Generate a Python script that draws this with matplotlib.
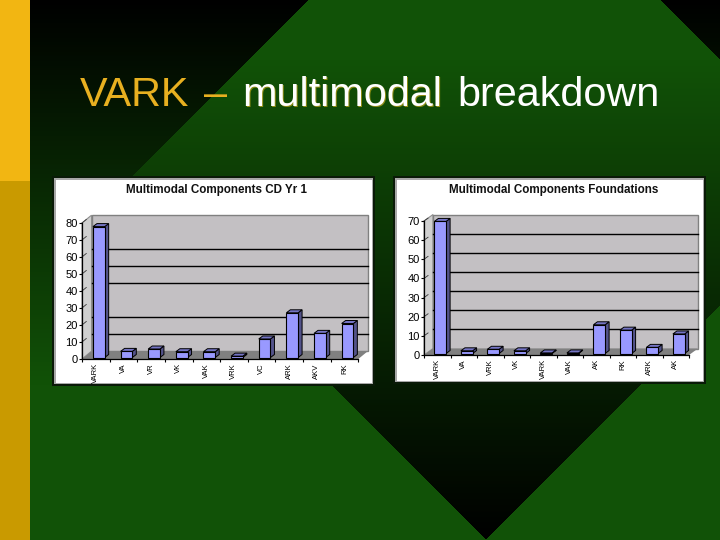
import numpy as np
import matplotlib
matplotlib.use("Agg")
import matplotlib.pyplot as plt
from matplotlib.patches import Rectangle, Polygon

plt.rcParams['font.family'] = ['Liberation Sans', 'DejaVu Sans']

# ---- data ----
title_main = "VARK \u2013 multimodal breakdown"
chart1_title = "Multimodal Components CD Yr 1"
chart1_labels = ["VARK", "VA", "VR", "VK", "VAK", "VRK", "VC", "ARK", "AKV", "RK"]
chart1_values = [77, 3.6, 5, 3.4, 3.4, 0.8, 10.9, 26.3, 14.2, 20]
chart1_ticks = [0, 10, 20, 30, 40, 50, 60, 70, 80]
chart1_grid = [10, 20, 40, 50, 60]

chart2_title = "Multimodal Components Foundations"
chart2_labels = ["VARK", "VA", "VRK", "VK", "VARK", "VAK", "AK", "RK", "ARK", "AK"]
chart2_values = [69, 1.4, 2.2, 1.4, 0.3, 0.3, 15, 12.2, 3.2, 10.2]
chart2_ticks = [0, 10, 20, 30, 40, 50, 60, 70]
chart2_grid = [10, 20, 30, 40, 50, 60]

W, H = 720, 540
GREEN = np.array([17, 82, 7]) / 255
fig = plt.figure(figsize=(W / 100, H / 100), dpi=100)

# ---- slide background ----
bg = fig.add_axes([0, 0, 1, 1])
bg.set_xlim(0, W)
bg.set_ylim(H, 0)
bg.axis('off')
yy, xx = np.mgrid[0:H, 0:W] + 0.5
fade_a = np.clip(yy / 385, 0, 1)
fade_b = np.clip((540 - yy) / 480, 0, 1)
factor = np.ones((H, W))
region_a = (xx + yy < 309) | (xx < 60) | (xx - yy > 660)
region_b = ((yy - xx) < 54) & (xx + yy < 1026)
factor[region_b] = fade_b[region_b]
factor[region_a] = fade_a[region_a]
bg.imshow(factor[..., None] * GREEN, extent=[0, W, H, 0], aspect='auto', zorder=0,
          interpolation='bilinear')
bg.add_patch(Rectangle((0, 0), 30, 181, fc='#f2b612', ec='none', zorder=1))
bg.add_patch(Rectangle((0, 181), 30, H - 181, fc='#c99a00', ec='none', zorder=1))

# ---- slide title ----
base = 106
fs = 29.8
kw = dict(fontsize=fs, va='baseline', ha='left', zorder=5)
bg.text(80, base, "VARK", color='#e8b020', **kw)
bg.text(204, base, "\u2013", color='#e8b020', **kw)
bg.text(243.2, base + 1.3, "multimodal", color='#8c8c14', **kw)
bg.text(242, base, "multimodal", color='white', **kw)
bg.text(457, base, "breakdown", color='white', **kw)


def panel(x0, y0, x1, y1):
    bg.add_patch(Rectangle((x0 - 2, y0 - 2), x1 - x0 + 4, y1 - y0 + 4, fc='#0a1a08', ec='none', zorder=2))
    bg.add_patch(Rectangle((x0, y0), x1 - x0, y1 - y0, fc='#a8a8a8', ec='none', zorder=3))
    bg.add_patch(Rectangle((x0 + 1.5, y0 + 1.5), x1 - x0 - 3, y1 - y0 - 3, fc='white', ec='none', zorder=4))


def chart(title, labels, values, ticks, grid, left, right, top, bottom,
          px_dx, px_dy, title_x, title_y):
    n = len(values)
    ymax = ticks[-1]
    ax = fig.add_axes([left / W, 1 - bottom / H, (right - left) / W, (bottom - top) / H])
    ax.patch.set_alpha(0)
    ax.set_xlim(0, n)
    ax.set_ylim(0, ymax)
    ux = n / (right - left)              # data units per pixel
    uy = ymax / (bottom - top)
    dx, dy = px_dx * ux, px_dy * uy

    # walls and floor
    ax.add_patch(Polygon([(0, 0), (dx, dy), (dx, ymax + dy), (0, ymax)], fc='#d0d0d0',
                         ec='#909090', lw=0.8, zorder=1, clip_on=False))
    ax.add_patch(Polygon([(dx, dy), (n + dx, dy), (n + dx, ymax + dy), (dx, ymax + dy)],
                         fc='#c3c0c3', ec='#808080', lw=1, zorder=1, clip_on=False))
    ax.add_patch(Polygon([(0, 0), (n, 0), (n + dx, dy), (dx, dy)], fc='#808080',
                         ec='none', zorder=2, clip_on=False))
    for g in grid:
        ax.plot([dx, n + dx], [g + dy, g + dy], color='black', lw=1.0, zorder=2, clip_on=False)
    for t in ticks[1:]:
        ax.plot([0, dx * 0.45], [t, t + dy * 0.45], color='#333333', lw=0.6, zorder=2, clip_on=False)

    # bars with a 3-D look
    bw = 11.7 * ux
    bdx, bdy = 4 * ux, 3 * uy
    off = 3 * ux
    lift = 1.5 * uy
    xs = np.arange(n) + 0.5 + off
    for x, v in zip(xs, values):
        x0, x1 = x - bw / 2, x + bw / 2
        y0, y1 = lift, lift + v
        ax.add_patch(Polygon([(x1, y0), (x1 + bdx, y0 + bdy), (x1 + bdx, y1 + bdy), (x1, y1)],
                             fc='#53538a', ec='black', lw=0.7, zorder=3, clip_on=False))
        ax.add_patch(Polygon([(x0, y1), (x1, y1), (x1 + bdx, y1 + bdy), (x0 + bdx, y1 + bdy)],
                             fc='#7474c4', ec='black', lw=0.7, zorder=3, clip_on=False))
    ax.bar(xs, values, width=bw, bottom=lift, color='#9999ff', edgecolor='black', lw=0.8,
           zorder=4, clip_on=False)

    # axes
    for s in ('top', 'right'):
        ax.spines[s].set_visible(False)
    for s in ('left', 'bottom'):
        ax.spines[s].set_linewidth(0.9)
        ax.spines[s].set_zorder(5)
    ax.set_yticks(ticks)
    ax.tick_params(axis='y', length=2, width=0.8, labelsize=8, pad=1, colors='black')
    ax.set_xticks(np.arange(n) + 0.5)
    ax.set_xticklabels(labels, rotation=90, fontsize=5.5)
    ax.tick_params(axis='x', which='major', length=0, pad=3)
    ax.set_xticks(np.arange(n + 1), minor=True)
    ax.tick_params(axis='x', which='minor', length=2.5, width=0.8)
    bg.text(title_x, title_y, title, fontsize=8.4, fontweight='bold', ha='center', va='center',
            color='#111111', zorder=5)


panel(54, 178, 373, 384)
panel(395, 178, 704, 382)
chart(chart1_title, chart1_labels, chart1_values, chart1_ticks, chart1_grid,
      82, 358.3, 223, 359, 9.5, 7.8, 216, 190)
chart(chart2_title, chart2_labels, chart2_values, chart2_ticks, chart2_grid,
      424, 689, 221, 355, 9, 6.5, 553.5, 190)

fig.savefig("out.png", dpi=100)
